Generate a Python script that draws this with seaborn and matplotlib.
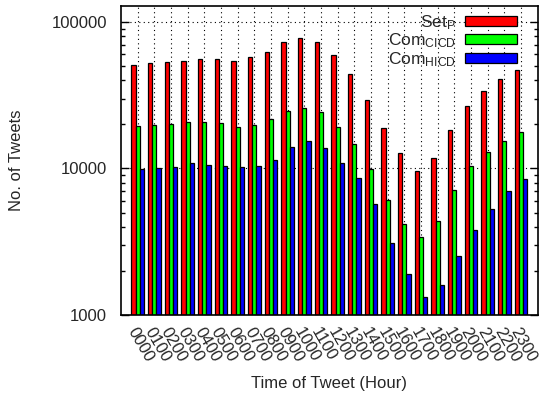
import matplotlib
matplotlib.use("Agg")
import matplotlib.pyplot as plt
import matplotlib.ticker as mticker
import seaborn as sns
import pandas as pd
import numpy as np

hours = ["0000", "0100", "0200", "0300", "0400", "0500", "0600", "0700",
         "0800", "0900", "1000", "1100", "1200", "1300", "1400", "1500",
         "1600", "1700", "1800", "1900", "2000", "2100", "2200", "2300"]
set_p = [50900, 52500, 53600, 54500, 56200, 56000, 54500, 57400,
         62800, 72600, 77400, 73100, 59600, 44200, 29400, 18900,
         12800, 9650, 11700, 18200, 26900, 33900, 41100, 47300]
com_cicd = [19500, 19750, 20200, 20700, 20700, 20400, 19200, 19750,
            21800, 24500, 25900, 24200, 19200, 14600, 9850, 6050,
            4180, 3400, 4380, 7130, 10430, 13050, 15460, 17870]
com_hicd = [9850, 10100, 10300, 10900, 10600, 10430, 10160, 10350,
            11400, 14100, 15300, 13800, 10900, 8640, 5745, 3080,
            1905, 1320, 1600, 2530, 3780, 5310, 7010, 8510]
series_names = [r"$\mathregular{Set_P}$", r"$\mathregular{Com_{CICD}}$",
                r"$\mathregular{Com_{HICD}}$"]
colors = ["#ff0000", "#00ff00", "#0000ff"]

df = pd.DataFrame({
    "hour": hours * 3,
    "count": set_p + com_cicd + com_hicd,
    "series": [series_names[0]] * 24 + [series_names[1]] * 24 + [series_names[2]] * 24,
})

sns.set_style("white")
plt.rcParams["font.family"] = ["Liberation Sans", "DejaVu Sans"]
plt.rcParams["mathtext.default"] = "regular"

fig = plt.figure(figsize=(5.4, 3.93), dpi=100)
ax = fig.add_axes([0.2241, 0.1985, 0.9957 - 0.2241, 0.9847 - 0.1985])
ax.set_yscale("log")
sns.barplot(data=df, x="hour", y="count", hue="series", order=hours,
            hue_order=series_names, palette=colors, saturation=1,
            width=0.75, gap=0, edgecolor="black", linewidth=0.9,
            ax=ax, legend=True)

ax.set_xlim(-1, 24)
ax.set_ylim(1000, 128500)
ax.set_yticks([1000, 10000, 100000])
ax.yaxis.set_major_formatter(mticker.FuncFormatter(lambda v, p: f"{int(round(v))}"))
ax.yaxis.set_minor_locator(mticker.LogLocator(base=10, subs=np.arange(2, 10)))
ax.yaxis.set_minor_formatter(mticker.NullFormatter())
ax.tick_params(axis="y", which="major", direction="in", length=6, width=1,
               left=True, right=True, labelsize=12, pad=10, color="black")
ax.tick_params(axis="y", which="minor", direction="in", length=3, width=1,
               left=True, right=True, color="black")
ax.tick_params(axis="x", length=0, labelsize=12, pad=7)
for lbl in ax.get_xticklabels():
    lbl.set_rotation(-60)
    lbl.set_ha("left")
    lbl.set_va("top")
    lbl.set_rotation_mode("anchor")

ax.set_axisbelow(True)
ax.grid(True, which="major", axis="both", color="black", linestyle=(0, (1, 3)),
        linewidth=0.8)
for s in ax.spines.values():
    s.set_color("black")
    s.set_linewidth(1.2)

ax.set_xlabel("Time of Tweet (Hour)", fontsize=12, labelpad=8)
ax.set_ylabel("No. of Tweets", fontsize=12, labelpad=20)

old = ax.get_legend()
handles = old.legend_handles
labels = [t.get_text() for t in old.texts]
old.remove()
ax.legend(handles, labels, loc="upper right", bbox_to_anchor=(0.950, 0.978),
          markerfirst=False, frameon=False,
          fontsize=12.5, handlelength=3.0, handleheight=0.5, labelspacing=0.0,
          handletextpad=0.5, borderaxespad=0.0, borderpad=0.0)

fig.savefig("out.png", dpi=100)
